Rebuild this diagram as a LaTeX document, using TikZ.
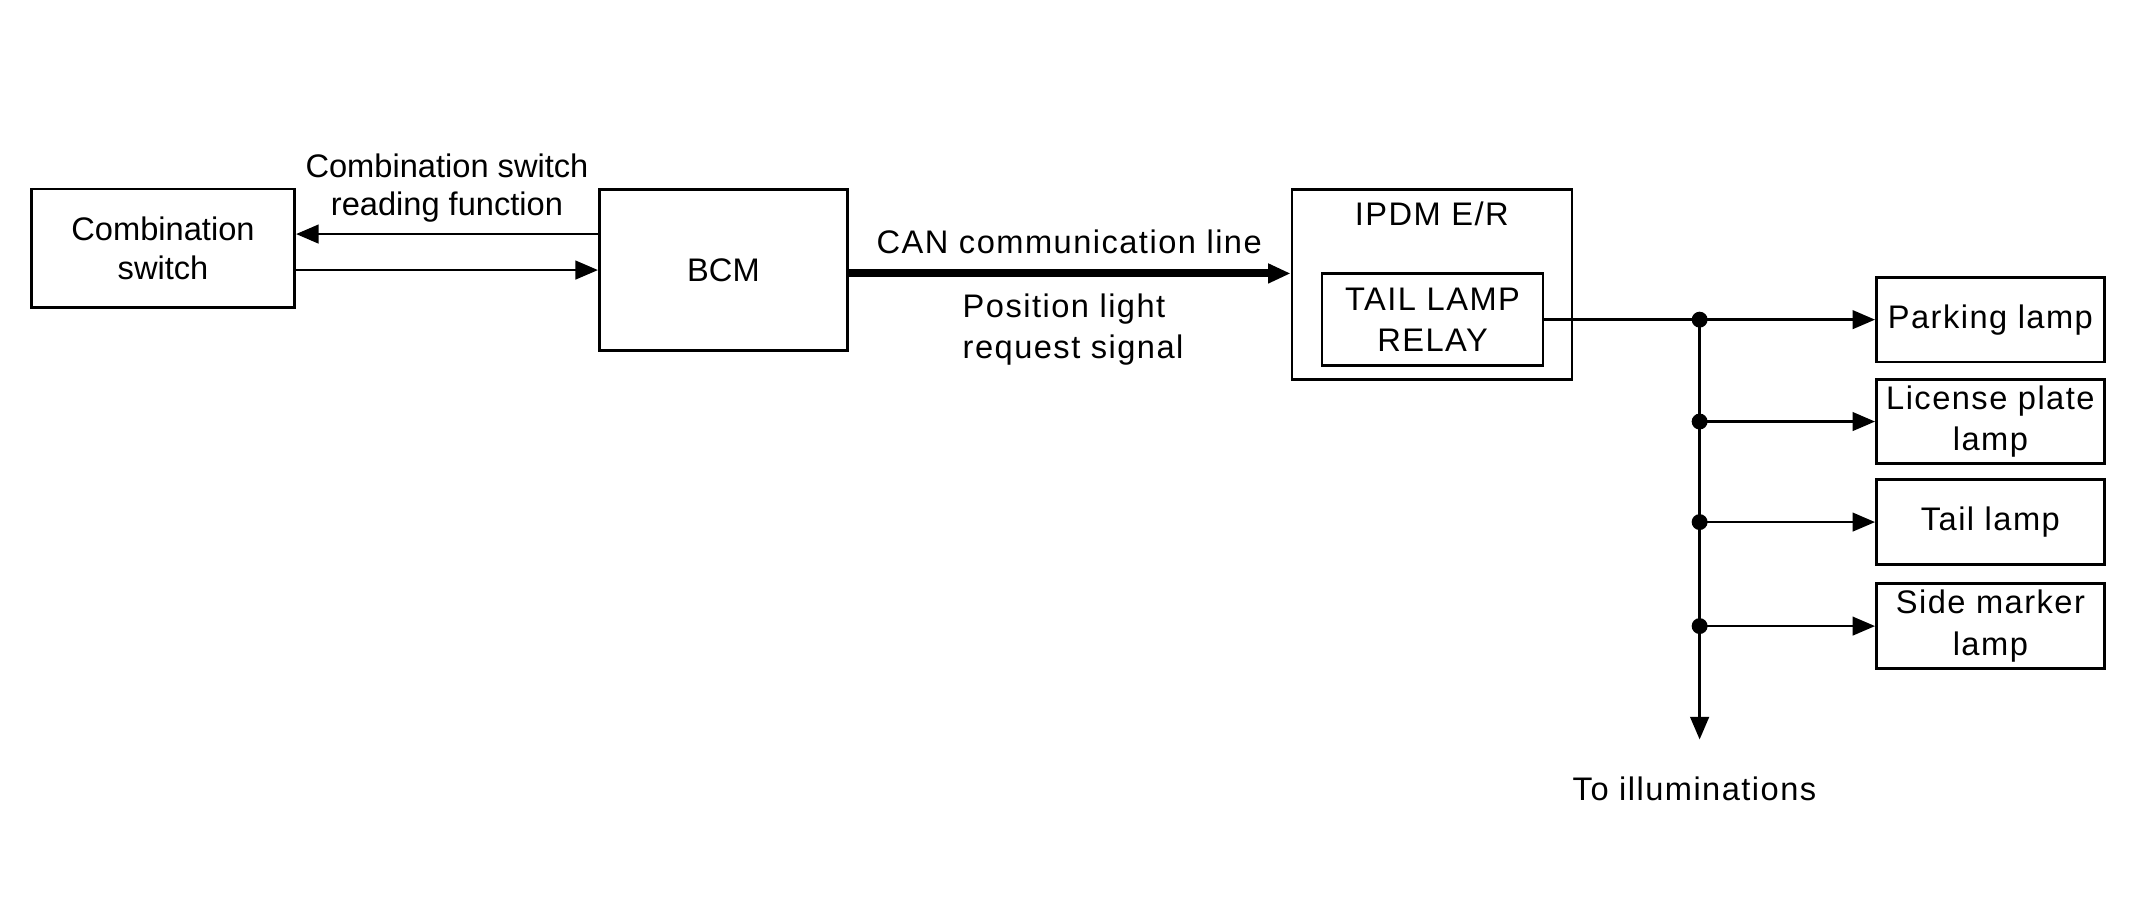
\documentclass[tikz,border=0pt]{standalone}
\usepackage{fontspec}
\setmainfont{Liberation Sans}
\newfontfamily\widefont[LetterSpace=4.5]{Liberation Sans}
\usetikzlibrary{arrows, arrows.meta}
\usetikzlibrary{shapes}
\newcommand{\txtsize}{\fontsize{12.3}{14.4}\selectfont}
\tikzset{unit/.style={draw, line width=1pt, inner sep=0pt, align=center},
         wide/.style={font=\widefont\fontsize{12.3}{15.6}\selectfont},
         lamp/.style={unit, wide, minimum width=3.02cm, minimum height=1.12cm}}

\begin{document}
\begin{tikzpicture}[>={Triangle[length=8.5pt,width=7pt]}, line width=1pt, font=\txtsize]
\useasboundingbox (0,0) rectangle (28.22,11.885);
      \node[unit, minimum width=3.49cm, minimum height=1.57cm] (cs) at (2.16,8.595) {Combination\\switch};
      \node[unit, minimum width=3.29cm, minimum height=2.14cm] (bcm) at (9.585,8.307) {BCM};
      \node[unit, minimum width=3.71cm, minimum height=2.52cm] (ipdm) at (18.972,8.118) {};
      \node[wide] (ipdmlbl) at (18.97,9.054) {IPDM E/R};
      \node[unit, wide, minimum width=2.93cm, minimum height=1.22cm] (relay) at (18.98,7.65) {TAIL LAMP\\RELAY};
% switch <-> BCM
\coordinate (up) at ([yshift=0.477cm]bcm.west);
      \draw[->] (up) -- (cs.east |- up);
      \draw[->] (cs.east |- bcm.west) -- (bcm.west);
\node[align=center] (readlbl) at (5.922,9.396) {Combination switch\\reading function};
% CAN line
      \draw[->, line width=3pt] ([yshift=-0.045cm]bcm.east) -- ([yshift=-0.045cm]ipdm.west |- bcm.east);
\node[wide] (canlbl) at (14.166,8.676) {CAN communication line};
\node[wide, align=left, anchor=west] (reqlbl) at (12.62,7.52) {Position light\\request signal};
% lamps
\foreach \y/\name/\txt in {7.65/park/{Parking lamp}, 6.30/plate/{License plate\\lamp}, 4.968/tail/{Tail lamp}, 3.59/side/{Side marker\\lamp}}
{
  \node[lamp] (\name) at (26.37,\y) {\txt};
  \coordinate (j\name) at (22.518,\y);
  \fill (j\name) circle (3pt);
  \draw[->] (j\name) -- (\name);
}
      \draw (relay.east) -- (jpark);
\coordinate (bus) at (22.518,2.088);
      \draw[->] (jpark) -- (bus);
\node[wide] (illum) at (22.45,1.44) {To illuminations};
    \end{tikzpicture}
\end{document}
